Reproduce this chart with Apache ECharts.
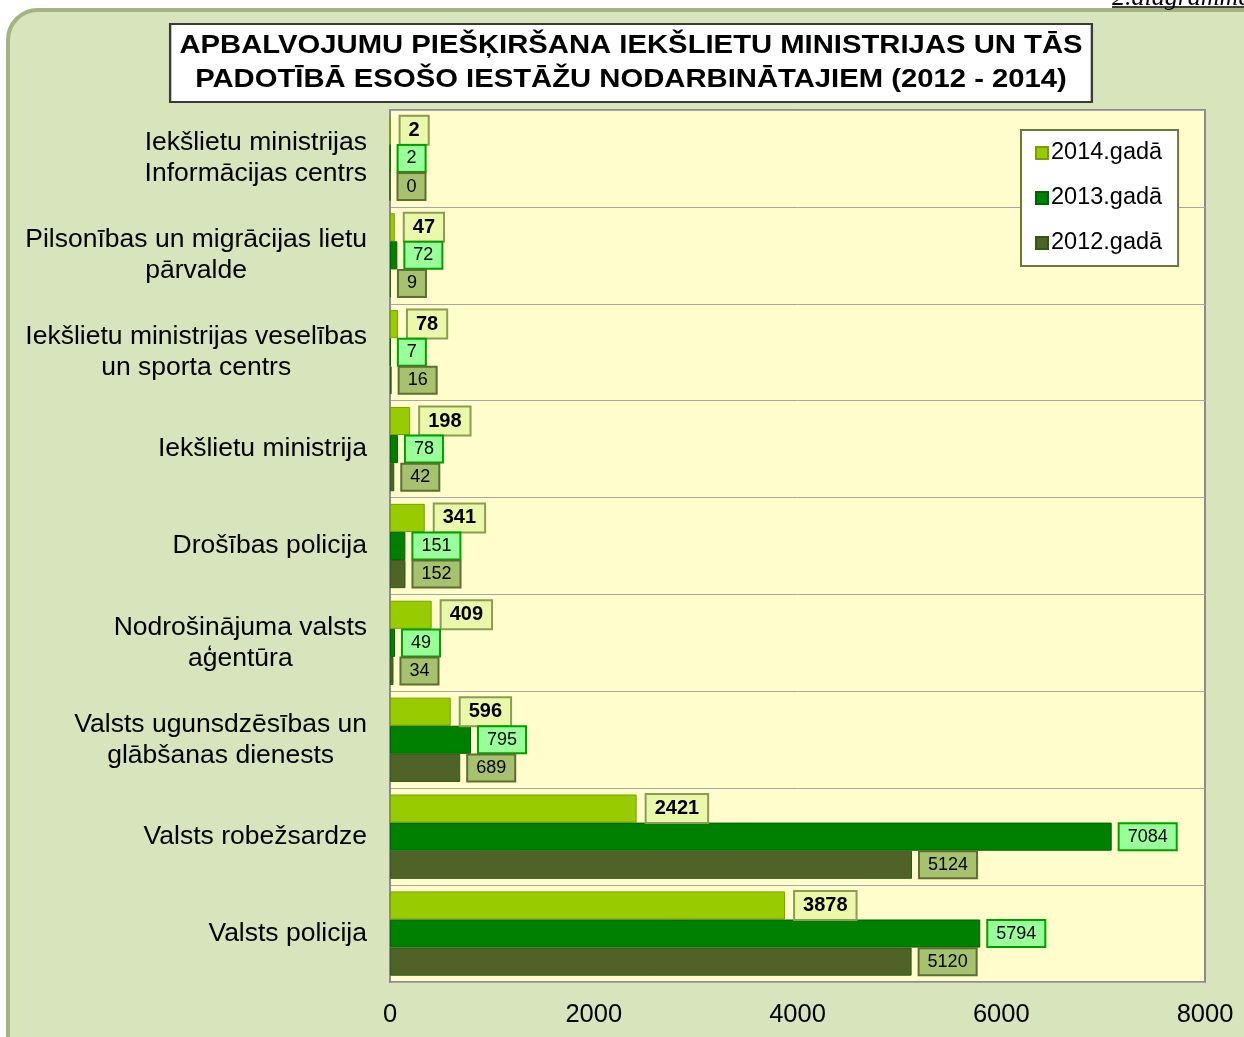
<!DOCTYPE html>
<html>
<head>
    <meta charset="utf-8">
    <title>ECharts</title>
    <script src="https://cdn.jsdelivr.net/npm/echarts@6/dist/echarts.min.js"></script>
    <style>
        html, body { margin: 0; padding: 0; background: #fff; }
    </style>
</head>
<body>
    <div id="c" style="width: 1244px;height:1037px;"></div>
    <script>
        // iestādes (no augšas uz leju)
        var categories = [
            'Iekšlietu ministrijas\nInformācijas centrs',
            'Pilsonības un migrācijas lietu\npārvalde',
            'Iekšlietu ministrijas veselības\nun sporta centrs',
            'Iekšlietu ministrija',
            'Drošības policija',
            'Nodrošinājuma valsts\naģentūra',
            'Valsts ugunsdzēsības un\nglābšanas dienests',
            'Valsts robežsardze',
            'Valsts policija'
        ];
        var years = ['2014.gadā', '2013.gadā', '2012.gadā'];
        var val2014 = [2, 47, 78, 198, 341, 409, 596, 2421, 3878];
        var val2013 = [2, 72, 7, 78, 151, 49, 795, 7084, 5794];
        var val2012 = [0, 9, 16, 42, 152, 34, 689, 5124, 5120];
        var xTicks = [0, 8000, 2000]; // min, max, interval

        var font = 'Liberation Sans, Arial, sans-serif';

        function labelStyle(bg, border, bold, size, dist) {
            return {
                show: true,
                position: 'right',
                distance: dist,
                color: '#000',
                fontFamily: font,
                fontSize: size,
                fontWeight: bold ? 'bold' : 'normal',
                backgroundColor: bg,
                borderColor: border,
                borderWidth: 2,
                padding: [4, 8, 3, 8]
            };
        }

        var myChart = echarts.init(document.getElementById('c'));
        var option = {
            backgroundColor: '#fff',
            animation: false,
            graphic: [
                {
                    type: 'rect', z: -10,
                    shape: { x: 8, y: 10, width: 1300, height: 1100, r: 30 },
                    style: { fill: '#d8e4bc', stroke: '#a3b383', lineWidth: 4 }
                },
                {
                    type: 'text', z: 10,
                    x: 631, y: 63, scaleX: 1.17,
                    style: {
                        text: 'APBALVOJUMU PIEŠĶIRŠANA IEKŠLIETU MINISTRIJAS UN TĀS\nPADOTĪBĀ ESOŠO IESTĀŽU NODARBINĀTAJIEM (2012 - 2014)',
                        x: 0, y: 0,
                        align: 'center', verticalAlign: 'middle',
                        font: 'bold 25px ' + font,
                        lineHeight: 34,
                        fill: '#000',
                        backgroundColor: '#fff',
                        borderColor: '#3a3a3a',
                        borderWidth: 2,
                        padding: [4, 7, 4, 7]
                    }
                },
                {
                    type: 'text', z: 10,
                    style: {
                        text: '2.diagramma',
                        x: 1112, y: 11,
                        verticalAlign: 'bottom',
                        font: 'italic 26px Liberation Serif, serif',
                        fill: '#000'
                    }
                },
                {
                    type: 'line', z: 10,
                    shape: { x1: 1112, y1: 7, x2: 1244, y2: 7 },
                    style: { stroke: '#000', lineWidth: 1.5 }
                }
            ],
            legend: {
                orient: 'vertical',
                left: 1021,
                top: 130,
                data: years,
                backgroundColor: '#fff',
                borderColor: '#6b7a3c',
                borderWidth: 2,
                borderRadius: 0,
                padding: [11, 16, 11, 14],
                itemGap: 21,
                itemWidth: 12,
                itemHeight: 12,
                icon: 'rect',
                textStyle: { fontFamily: font, fontSize: 23.5, color: '#000', padding: [0, 0, 0, -2] }
            },
            grid: {
                left: 390,
                right: 39,
                top: 110,
                bottom: 55,
                show: true,
                backgroundColor: '#fefdcb',
                borderColor: '#8c8c8c',
                borderWidth: 2
            },
            xAxis: {
                type: 'value',
                min: xTicks[0],
                max: xTicks[1],
                interval: xTicks[2],
                axisLine: { show: false },
                axisTick: { show: false },
                splitLine: { show: false },
                axisLabel: {
                    fontFamily: font, fontSize: 25.5, color: '#000', margin: 20,
                    formatter: function (v) { return String(v); }
                }
            },
            yAxis: {
                type: 'category',
                inverse: true,
                data: categories,
                axisLine: { show: true, lineStyle: { color: '#8c8c8c', width: 2 } },
                axisTick: { show: false },
                splitLine: { show: true, lineStyle: { color: '#a6a6a6', width: 1 } },
                axisLabel: {
                    margin: 23,
                    align: 'right',
                    formatter: function (v) {
                        return v.split('\n').map(function (s) { return '{c|' + s + '}'; }).join('\n');
                    },
                    rich: {
                        c: { align: 'center', fontFamily: font, fontSize: 26.5, lineHeight: 31, color: '#000' }
                    }
                }
            },
            series: [
                {
                    name: years[0], type: 'bar', data: val2014,
                    barGap: '0%', barCategoryGap: '13%',
                    itemStyle: { color: '#99cc00', borderColor: '#78a000', borderWidth: 1 },
                    label: labelStyle('#ebf8a9', '#8c9c55', true, 20, 10)
                },
                {
                    name: years[1], type: 'bar', data: val2013,
                    barGap: '0%', barCategoryGap: '13%',
                    itemStyle: { color: '#008000', borderColor: '#006200', borderWidth: 1 },
                    label: labelStyle('#99ff99', '#00a000', false, 18, 8)
                },
                {
                    name: years[2], type: 'bar', data: val2012,
                    barGap: '0%', barCategoryGap: '13%',
                    itemStyle: { color: '#4f6228', borderColor: '#2f5a10', borderWidth: 1 },
                    label: labelStyle('#a6c26e', '#5e6e32', false, 18, 8)
                }
            ]
        };
        myChart.setOption(option);
    </script>
</body>
</html>
